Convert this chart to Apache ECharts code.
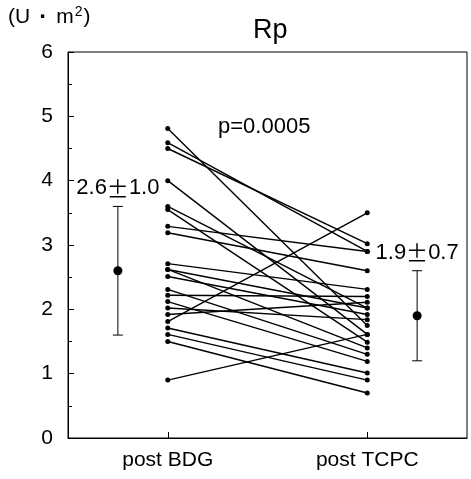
<!DOCTYPE html>
<html><head><meta charset="utf-8">
<script src="https://cdn.jsdelivr.net/npm/echarts@6/dist/echarts.min.js"></script>
<style>html,body{margin:0;padding:0;background:#fff}#c{width:471px;height:479px}</style>
</head><body><div id="c"></div>
<script>
// paired values per patient
var postBDG  = [4.81, 4.59, 4.50, 4.00, 3.60, 3.55, 3.29, 3.19, 2.71, 2.62, 2.62, 2.51, 2.31, 2.22, 2.12, 2.02, 1.92, 1.81, 1.71, 1.61, 1.50, 0.90];
var postTCPC = [1.75, 2.90, 3.02, 1.61, 2.02, 1.49, 2.90, 2.60, 2.31, 1.40, 2.02, 1.92, 1.30, 2.20, 1.19, 1.84, 2.11, 3.50, 1.01, 0.90, 0.70, 1.61];
var categories = ['post BDG', 'post TCPC'];
var catPos = [1, 3];
var meanPos = [0.5, 3.5];
var means = [2.6, 1.9];
var sds = [1.0, 0.7];
var meanText = [['2.6', '1.0'], ['1.9', '0.7']];
var yTicks = [0, 1, 2, 3, 4, 5, 6];

var font = 'Liberation Sans, Arial, Helvetica, sans-serif';
var series = [];
for (var i = 0; i < postBDG.length; i++) {
  series.push({
    type: 'line', data: [[catPos[0], postBDG[i]], [catPos[1], postTCPC[i]]],
    symbol: 'circle', symbolSize: 5, silent: true, animation: false,
    lineStyle: {color: '#000', width: 1.4}, itemStyle: {color: '#000'}
  });
}
series.push({
  type: 'custom', animation: false, silent: true,
  data: means.map(function (m, k) { return [meanPos[k], m, sds[k], k]; }),
  renderItem: function (params, api) {
    var x = api.value(0), m = api.value(1), s = api.value(2), k = api.value(3);
    var top = api.coord([x, m + s]), bot = api.coord([x, m - s]), c = api.coord([x, m]);
    var cap = 5;
    return {type: 'group', children: [
      {type: 'line', shape: {x1: top[0], y1: top[1], x2: bot[0], y2: bot[1]}, style: {stroke: '#000', lineWidth: 1}},
      {type: 'line', shape: {x1: top[0] - cap, y1: top[1], x2: top[0] + cap, y2: top[1]}, style: {stroke: '#000', lineWidth: 1}},
      {type: 'line', shape: {x1: bot[0] - cap, y1: bot[1], x2: bot[0] + cap, y2: bot[1]}, style: {stroke: '#000', lineWidth: 1}},
      {type: 'circle', shape: {cx: c[0], cy: c[1], r: 4.5}, style: {fill: '#000'}},
      {type: 'text', x: top[0], y: top[1] - 7, style: {
        text: meanText[k][0] + '{pm|\u00b1}' + meanText[k][1], fill: '#000', font: '22px ' + font,
        align: 'center', verticalAlign: 'bottom',
        rich: {pm: {fontFamily: 'Noto Sans CJK JP', fontSize: 22}}}}
    ]};
  }
});

var chart = echarts.init(document.getElementById('c'), null, {renderer: 'canvas'});
chart.setOption({
  backgroundColor: '#fff',
  animation: false,
  grid: {left: 68, right: 4, top: 52, bottom: 41, show: true, borderColor: '#000', borderWidth: 1},
  title: {text: 'Rp', left: 248, top: 12, textStyle: {fontFamily: font, fontSize: 27, fontWeight: 'normal', color: '#000'}},
  xAxis: {
    type: 'value', min: 0, max: 4, interval: 1,
    axisLine: {lineStyle: {color: '#000', width: 1}},
    axisTick: {inside: true, length: 6, lineStyle: {color: '#000'}, customValues: catPos},
    axisLabel: {customValues: catPos, margin: 12, color: '#000', fontFamily: font, fontSize: 21,
      formatter: function (v) { var k = catPos.indexOf(v); return k >= 0 ? categories[k] : ''; }},
    splitLine: {show: false}
  },
  yAxis: {
    type: 'value', min: yTicks[0], max: yTicks[yTicks.length - 1], interval: 1,
    axisLine: {show: true, lineStyle: {color: '#000', width: 1}},
    axisTick: {show: true, inside: true, length: 6, lineStyle: {color: '#000'}},
    minorTick: {show: true, splitNumber: 2, length: 4, lineStyle: {color: '#000'}},
    axisLabel: {margin: 15, color: '#000', fontFamily: font, fontSize: 21},
    splitLine: {show: false}
  },
  graphic: [
    {type: 'text', left: 8, top: 5, style: {
      text: '(U{d|\u00b7}m{s|2})', fill: '#000', font: '21px ' + font,
      rich: {s: {fontSize: 14, verticalAlign: 'top', padding: [0, 1, 10, 1], fontFamily: font},
             d: {fontSize: 24, fontWeight: 'bold', fontFamily: font, padding: [0, 9, 0, 9]}}}},
    {type: 'text', left: 218, top: 116, style: {text: 'p=0.0005', fill: '#000', font: '22px ' + font}}
  ],
  series: series
});
</script></body></html>
